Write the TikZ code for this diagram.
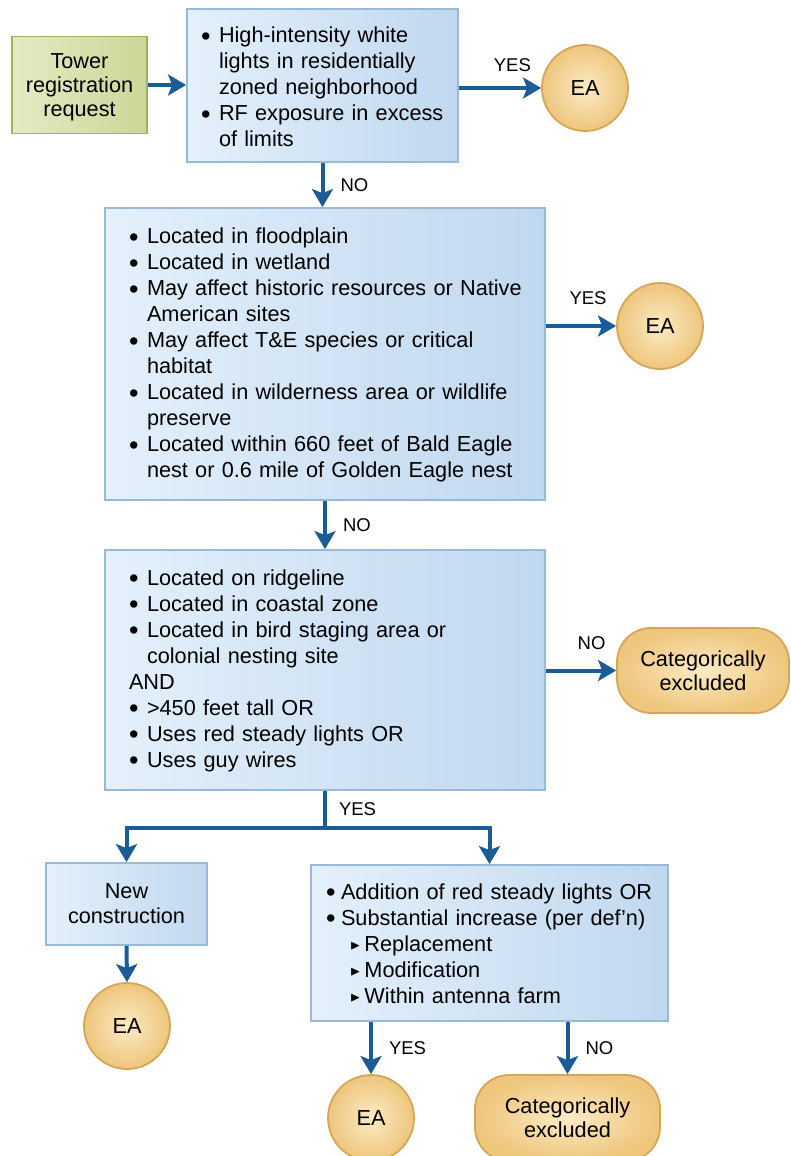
\documentclass[tikz,border=0pt]{standalone}
\usepackage{fontspec}
\setmainfont{Liberation Sans}
\usepackage{amssymb}
\usepackage{graphicx}
\usepackage{xcolor}
\usetikzlibrary{arrows.meta,positioning,calc}
\definecolor{flowblue}{RGB}{28,92,150}
\definecolor{boxlight}{RGB}{228,240,251}
\definecolor{boxdark}{RGB}{192,216,239}
\definecolor{boxedge}{RGB}{152,186,216}
\definecolor{goldlight}{RGB}{252,234,196}
\definecolor{golddark}{RGB}{238,198,124}
\definecolor{goldedge}{RGB}{214,166,88}
\definecolor{greenlight}{RGB}{228,235,196}
\definecolor{greendark}{RGB}{204,214,152}
\definecolor{greenedge}{RGB}{158,178,98}
\newcommand{\bul}{\raisebox{-2.5pt}{\scalebox{1.25}{\textbullet}}}
\newcommand{\subitm}{\hspace*{9pt}\raisebox{2pt}{\scalebox{0.62}{$\blacktriangleright$}}\hspace{4pt}}
\newcommand{\dropby}[2]{\raisebox{-#1}[\height][\depth]{#2}}
\tikzset{
    qbox/.style={rectangle, draw=boxedge, line width=1.8pt, left color=boxlight, right color=boxdark, inner ysep=0pt, align=left, font=\fontsize{21.7}{26}\selectfont},
    startbox/.style={rectangle, draw=greenedge, line width=1.8pt, left color=greenlight, right color=greendark, align=center, inner sep=0pt, font=\fontsize{21.7}{24}\selectfont},
    eanode/.style={circle, draw=goldedge, line width=1.8pt, inner color=goldlight, outer color=golddark, minimum size=86pt, inner sep=0pt, font=\fontsize{21.7}{26}\selectfont},
    exclnode/.style={rectangle, rounded corners=34pt, draw=goldedge, line width=1.8pt, inner color=goldlight, outer color=golddark, align=center, inner sep=0pt, font=\fontsize{21.7}{24}\selectfont},
    flowarrow/.style={line width=4pt, draw=flowblue, -{Stealth[width=21pt, length=18pt, inset=4pt]}},
    flowline/.style={line width=4pt, draw=flowblue},
    answer/.style={font=\fontsize{18.5}{18.5}\selectfont, inner sep=0pt},
}
\begin{document}
\begin{tikzpicture}[x=1pt, y=-1pt]
    \useasboundingbox (0,0) rectangle (790,1156);

    % Request
    \node[startbox, minimum width=135pt, minimum height=97pt] (tower) at (79.5,85) {\dropby{3pt}{\begin{tabular}{@{}c@{}}Tower\\registration\\request\end{tabular}}};

    % First screen
    \node[qbox, minimum width=271pt, minimum height=153pt, inner xsep=14pt, text width=243pt] (lights) at (322.5,85.5) {%
        \dropby{4pt}{\begin{tabular}{@{}p{18pt}@{}l@{}}
            \bul & High-intensity white\\
                 & lights in residentially\\
                 & zoned neighborhood\\
            \bul & RF exposure in excess\\
                 & of limits
        \end{tabular}}};
    \node[eanode] (ea1) at (585,88) {EA};

    % Second screen
    \node[qbox, minimum width=440pt, minimum height=292pt, inner xsep=24pt, text width=392pt] (habitat) at (325,354) {%
        \dropby{1.5pt}{\begin{tabular}{@{}p{18pt}@{}l@{}}
            \bul & Located in floodplain\\
            \bul & Located in wetland\\
            \bul & May affect historic resources or Native\\
                 & American sites\\
            \bul & May affect T\&E species or critical\\
                 & habitat\\
            \bul & Located in wilderness area or wildlife\\
                 & preserve\\
            \bul & Located within 660 feet of Bald Eagle\\
                 & nest or 0.6 mile of Golden Eagle nest
        \end{tabular}}};
    \node[eanode] (ea2) at (660,326) {EA};

    % Third screen
    \node[qbox, minimum width=440pt, minimum height=240pt, inner xsep=24pt, text width=392pt] (ridge) at (325,670) {%
        \dropby{1pt}{\begin{tabular}{@{}p{18pt}@{}l@{}}
            \bul & Located on ridgeline\\
            \bul & Located in coastal zone\\
            \bul & Located in bird staging area or\\
                 & colonial nesting site\\
            \multicolumn{2}{@{}l@{}}{AND}\\
            \bul & >450 feet tall OR\\
            \bul & Uses red steady lights OR\\
            \bul & Uses guy wires
        \end{tabular}}};
    \node[exclnode, minimum width=172pt, minimum height=85pt] (excl1) at (703,670.5) {Categorically\\excluded};

    % Outcomes
    \coordinate (split) at (325,828);
    \node[qbox, align=center, minimum width=161pt, minimum height=82pt, inner xsep=0pt, font=\fontsize{21.7}{25}\selectfont] (newbuild) at (126.5,904) {\dropby{1.5pt}{\begin{tabular}{@{}c@{}}New\\construction\end{tabular}}};
    \node[eanode] (ea3) at (127,1026) {EA};
    \node[qbox, minimum width=357pt, minimum height=156pt, inner xsep=15pt, text width=327pt] (mods) at (489.5,943) {%
        \dropby{3pt}{\begin{tabular}{@{}p{15pt}@{}l@{}}
            \bul & Addition of red steady lights OR\\
            \bul & Substantial increase (per def'n)\\
                 & \subitm Replacement\\
                 & \subitm Modification\\
                 & \subitm Within antenna farm
        \end{tabular}}};
    \node[eanode] (ea4) at (371,1118) {EA};
    \node[exclnode, minimum width=185pt, minimum height=86pt] (excl2) at (567.5,1118) {Categorically\\excluded};

    % Connectors
    \draw[flowarrow] (tower.east) -- (tower.east -| lights.west);
    \draw[flowarrow] (lights.east |- ea1) -- node[answer, above=14pt, pos=0.65] {YES} (ea1.west);
    \draw[flowarrow] (lights.south) -- node[answer, right=16pt] {NO} (lights.south |- habitat.north);
    \draw[flowarrow] (habitat.east |- ea2) -- node[answer, above=19pt, pos=0.6] {YES} (ea2.west);
    \draw[flowarrow] (habitat.south) -- node[answer, right=16pt] {NO} (ridge.north);
    \draw[flowarrow] (ridge.east |- excl1) -- node[answer, above=19pt, pos=0.65] {NO} (excl1.west);
    \draw[flowline] (ridge.south) -- node[answer, right=12pt] {YES} (split);
    \draw[flowarrow] (split) -| (newbuild.north);
    \draw[flowarrow] (split) -| (mods.north);
    \draw[flowarrow] (newbuild.south) -- (ea3.north);
    \draw[flowarrow] (ea4.north |- mods.south) -- node[answer, right=16pt] {YES} (ea4.north);
    \draw[flowarrow] (excl2.north |- mods.south) -- node[answer, right=16pt] {NO} (excl2.north);
\end{tikzpicture}
\end{document}
